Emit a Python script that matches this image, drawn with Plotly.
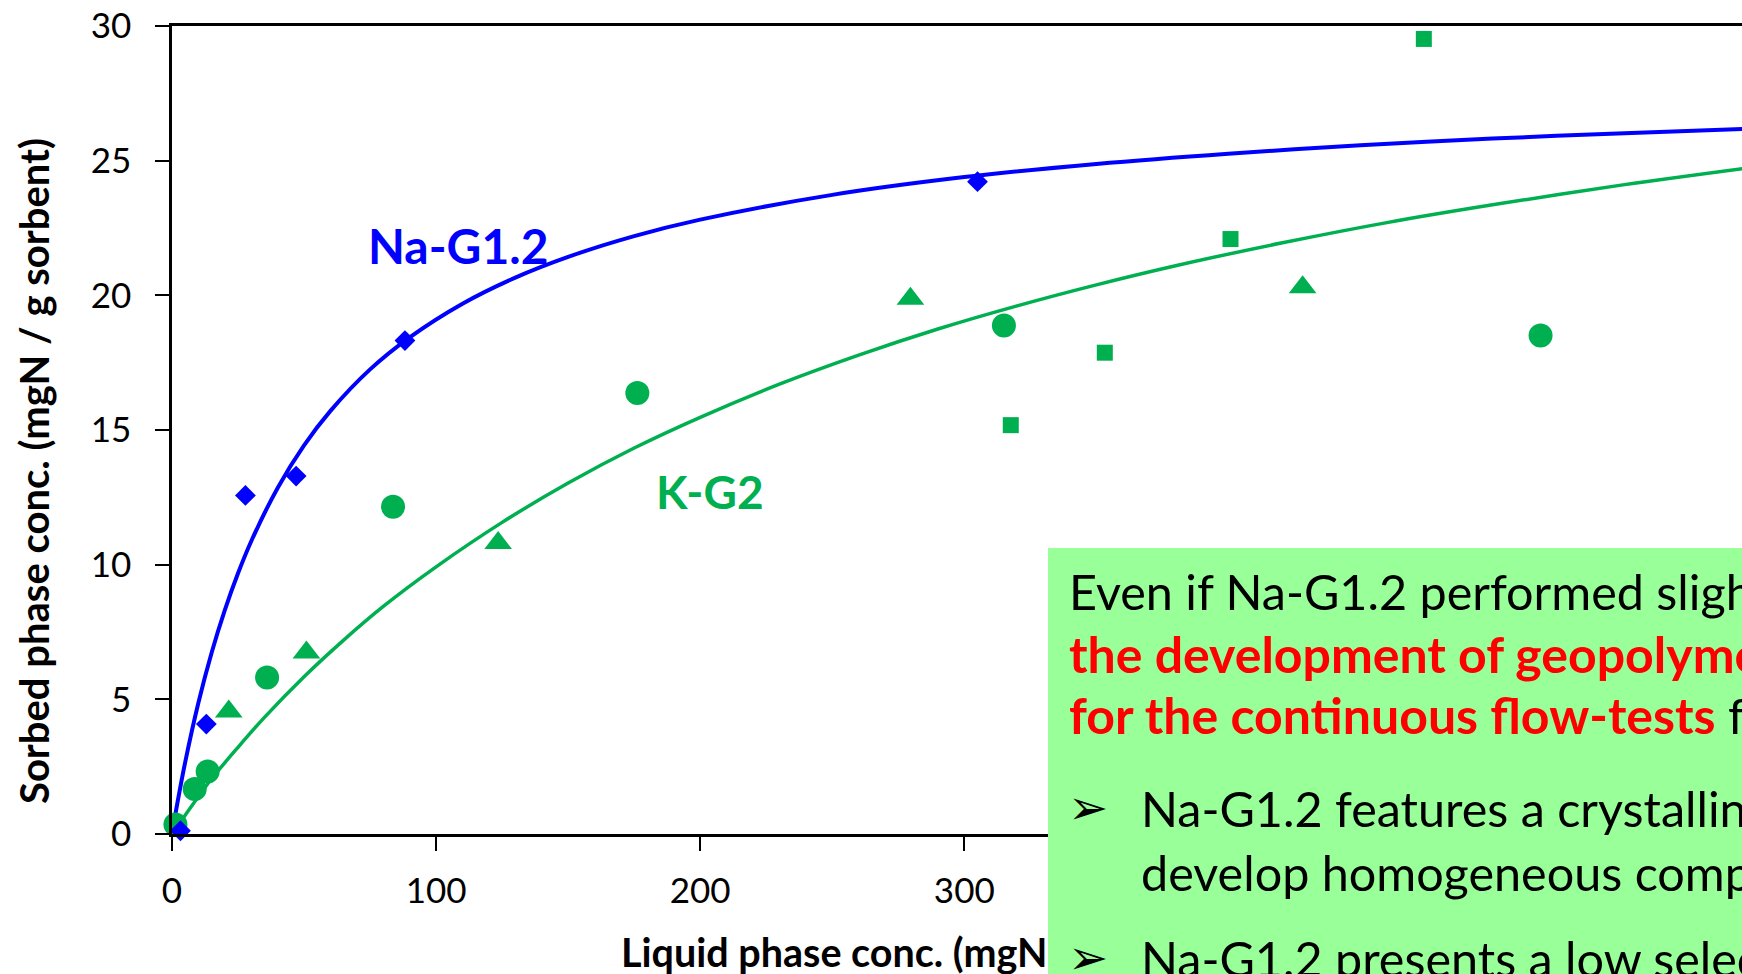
import plotly.graph_objects as go

# ---------------- data ----------------
# Na-G1.2 experimental points (diamonds)
na_x = [3.2, 13.0, 27.8, 47.0, 88.2, 305.0]
na_y = [0.12, 4.08, 12.57, 13.29, 18.32, 24.22]

# K-G2 experimental points (three marker shapes)
k_circ_x = [1.3, 8.6, 13.5, 36.0, 83.7, 176.2, 315.0, 518.2]
k_circ_y = [0.35, 1.67, 2.32, 5.81, 12.15, 16.37, 18.88, 18.51]
k_tri_x = [21.5, 50.9, 123.5, 279.6, 428.1]
k_tri_y = [4.55, 6.74, 10.80, 19.87, 20.30]
k_sq_x = [317.6, 353.2, 400.8, 474.0]
k_sq_y = [15.18, 17.87, 22.09, 29.52]

# fitted isotherm curves
na_fit_x = [0, 2, 5, 10, 15, 20, 25, 30, 40, 50, 60, 75, 90, 110, 130, 150, 175,
            200, 250, 300, 350, 400, 450, 500, 550, 595]
na_fit_y = [0, 1.13, 2.67, 4.87, 6.73, 8.31, 9.68, 10.87, 12.85, 14.43, 15.71, 17.25,
            18.44, 19.69, 20.66, 21.43, 22.2, 22.81, 23.73, 24.39, 24.88, 25.26, 25.57,
            25.82, 26.02, 26.18]
k_fit_x = [0, 5, 15, 25, 35, 50, 65, 80, 100, 125, 150, 175, 200, 230, 260, 290, 320,
           350, 380, 420, 460, 500, 550, 595]
k_fit_y = [0, 0.70, 2.05, 3.22, 4.33, 5.84, 7.2, 8.45, 9.92, 11.57, 13.03, 14.33, 15.47,
           16.7, 17.78, 18.75, 19.61, 20.39, 21.1, 21.94, 22.7, 23.36, 24.11, 24.71]

x_ticks = [0, 100, 200, 300, 400, 500]
y_ticks = [0, 5, 10, 15, 20, 25, 30]

x_title = "Liquid phase conc. (mgN / L)"
y_title = "Sorbed phase conc. (mgN / g sorbent)"
label_na = "Na-G1.2"
label_k = "K-G2"

box_lines = [
    ("Even if Na-G1.2 performed slightly better, K-G2 was chosen for", "plain"),
    ("the development of geopolymer-based filters", "red"),
    ("for the continuous flow-tests", "red_mixed", " for two reasons:"),
    ("Na-G1.2 features a crystalline structure, hard to", "bullet"),
    ("develop homogeneous compact filters", "cont"),
    ("Na-G1.2 presents a low selectivity towards NH4+", "bullet"),
]

# ---------------- style ----------------
BLUE = "#0000FF"
GREEN = "#00B050"
BOX = "#99FF99"
RED = "#FF0000"
FONT = "Lato"

W, H = 1742, 974
ML, MT, MB = 172, 26, 140
PW = W - ML
PH = H - MT - MB


def pxx(px):
    return (px - ML) / PW


def pxy(py):
    return (H - MB - py) / PH


fig = go.Figure()

fig.add_trace(go.Scatter(x=na_fit_x, y=na_fit_y, mode="lines",
                         line=dict(color=BLUE, width=4, shape="spline", smoothing=0.9),
                         cliponaxis=False, showlegend=False, hoverinfo="skip"))
fig.add_trace(go.Scatter(x=k_fit_x, y=k_fit_y, mode="lines",
                         line=dict(color=GREEN, width=3.5, shape="spline", smoothing=0.9),
                         cliponaxis=False, showlegend=False, hoverinfo="skip"))

fig.add_trace(go.Scatter(x=k_circ_x, y=k_circ_y, mode="markers",
                         marker=dict(symbol="circle", size=24, color=GREEN),
                         cliponaxis=False, showlegend=False))
fig.add_trace(go.Scatter(x=k_tri_x, y=k_tri_y, mode="markers",
                         marker=dict(symbol="triangle-up", size=24, color=GREEN),
                         cliponaxis=False, showlegend=False))
fig.add_trace(go.Scatter(x=k_sq_x, y=k_sq_y, mode="markers",
                         marker=dict(symbol="square", size=16, color=GREEN),
                         cliponaxis=False, showlegend=False))
fig.add_trace(go.Scatter(x=na_x, y=na_y, mode="markers",
                         marker=dict(symbol="diamond", size=16, color=BLUE),
                         cliponaxis=False, showlegend=False))

annotations = []
# curve labels
annotations.append(dict(x=108.3, y=21.85, xref="x", yref="y", text="<b>" + label_na + "</b>",
                        showarrow=False, font=dict(family=FONT, size=48, color=BLUE),
                        xanchor="center", yanchor="middle"))
annotations.append(dict(x=203.8, y=12.72, xref="x", yref="y", text="<b>" + label_k + "</b>",
                        showarrow=False, font=dict(family=FONT, size=46, color=GREEN),
                        xanchor="center", yanchor="middle"))
# axis titles
annotations.append(dict(x=pxx(34), y=pxy(471), xref="paper", yref="paper",
                        text="<b>" + y_title + "</b>", textangle=-90, showarrow=False,
                        font=dict(family=FONT, size=40, color="black"),
                        xanchor="center", yanchor="middle"))
annotations.append(dict(x=pxx(619), y=pxy(952), xref="paper", yref="paper",
                        text="<b>" + x_title + "</b>", showarrow=False,
                        font=dict(family=FONT, size=39.5, color="black"),
                        xanchor="left", yanchor="middle"))
# green text box (drawn on top of the axis title)
annotations.append(dict(x=pxx(1048), y=pxy(548), xref="paper", yref="paper",
                        text=" ", showarrow=False, bgcolor=BOX, width=900, height=500,
                        borderpad=0, borderwidth=0, xanchor="left", yanchor="top"))

TF = 48.5
TFB = 50
line_pos = [(1067, 591), (1067, 654), (1067, 715), (1139, 808), (1139, 872), (1139, 958)]
for (entry, (lx, ly)) in zip(box_lines, line_pos):
    kind = entry[1]
    if kind == "red":
        txt = "<b><span style='color:%s;font-size:%dpx'>%s</span></b>" % (RED, TFB, entry[0])
    elif kind == "red_mixed":
        txt = "<b><span style='color:%s;font-size:%dpx'>%s</span></b>%s" % (RED, TFB, entry[0], entry[2])
    else:
        txt = entry[0]
    annotations.append(dict(x=pxx(lx), y=pxy(ly), xref="paper", yref="paper", text=txt,
                            showarrow=False, font=dict(family=FONT, size=TF, color="black"),
                            xanchor="left", yanchor="middle", align="left"))
    if kind == "bullet":
        annotations.append(dict(x=pxx(1088), y=pxy(ly - 1), xref="paper", yref="paper", text="➢",
                                showarrow=False, font=dict(family="DejaVu Sans", size=48, color="black"),
                                xanchor="center", yanchor="middle"))

fig.update_layout(
    width=W, height=H,
    margin=dict(l=ML, r=0, t=MT, b=MB, pad=0),
    paper_bgcolor="white", plot_bgcolor="white",
    font=dict(family=FONT, color="black"),
    showlegend=False,
    annotations=annotations,
    xaxis=dict(range=[0, PW / 2.641], tickvals=x_ticks, ticktext=[str(v) for v in x_ticks],
               showgrid=False, zeroline=False, showline=True, linecolor="black", linewidth=2.5,
               mirror=True, ticks="outside", ticklen=14, tickwidth=2, tickcolor="black",
               tickfont=dict(family=FONT, size=35, color="black"), ticklabelstandoff=10,
               automargin=False, fixedrange=True),
    yaxis=dict(range=[0, 30], tickvals=y_ticks, ticktext=[str(v) for v in y_ticks],
               showgrid=False, zeroline=False, showline=True, linecolor="black", linewidth=2.5,
               mirror=False, ticks="outside", ticklen=14, tickwidth=2, tickcolor="black",
               tickfont=dict(family=FONT, size=35, color="black"), ticklabelstandoff=17,
               automargin=False, fixedrange=True),
)

fig.write_html("out.html", config={"displayModeBar": False},
               post_script="document.body.style.margin='0px';document.body.style.overflow='hidden';")
